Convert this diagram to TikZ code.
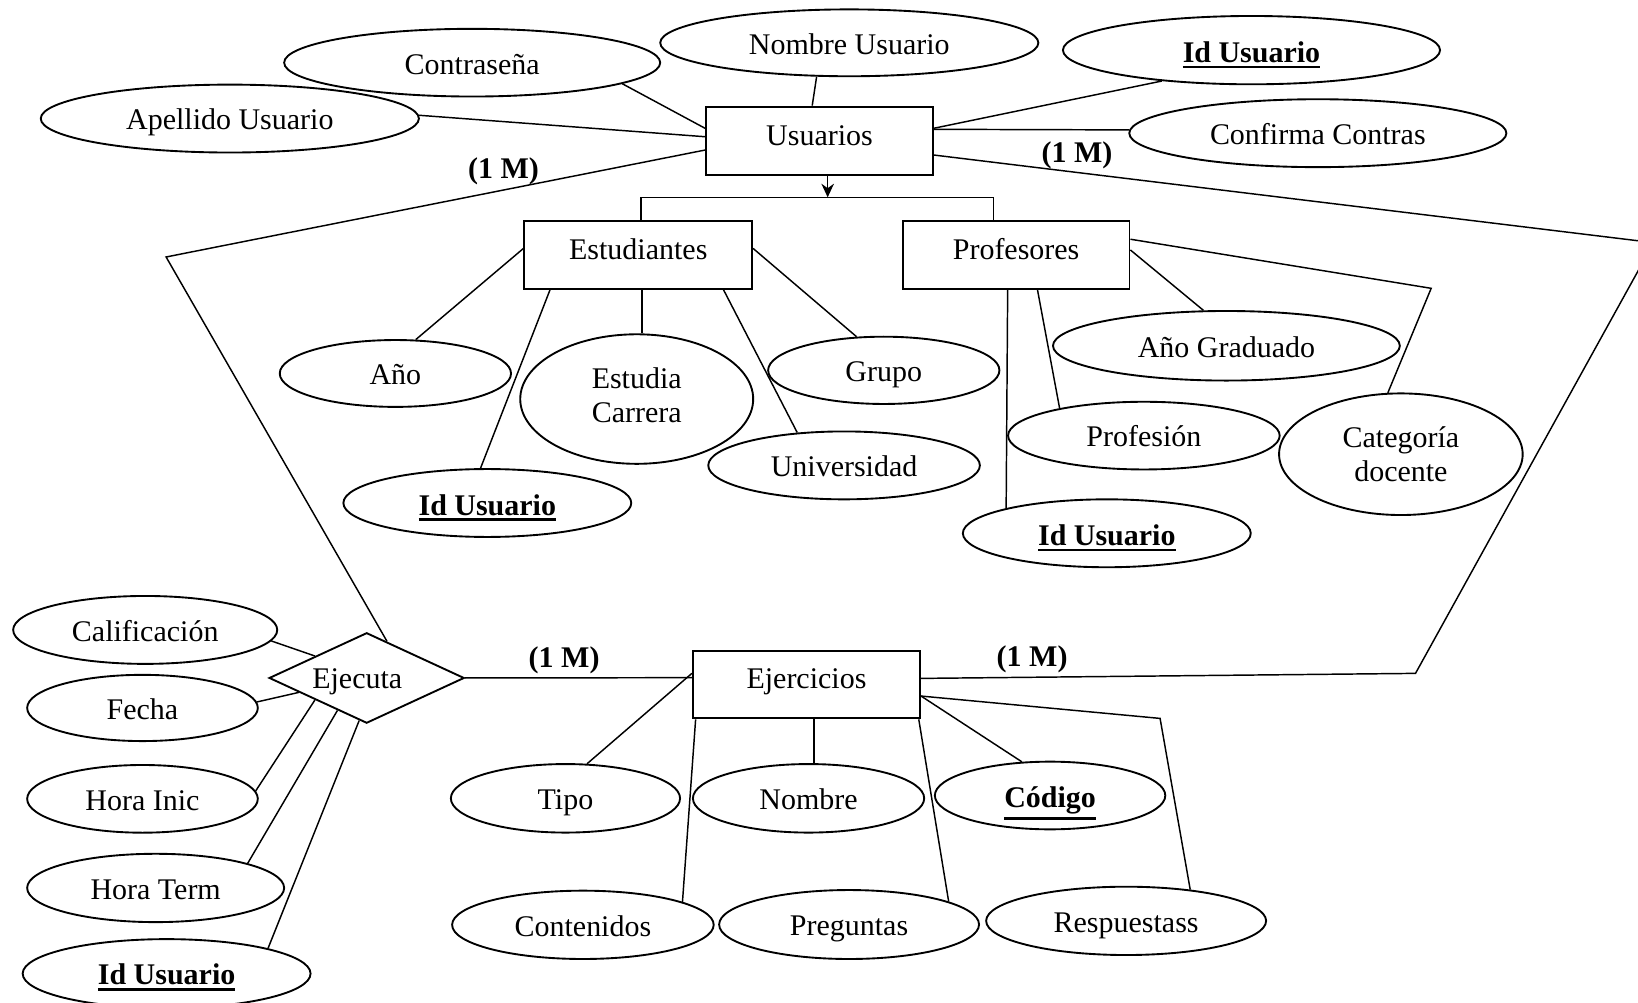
\documentclass[tikz,border=0pt]{standalone}
\usepackage{fontspec}
\setmainfont{Liberation Serif}
\usetikzlibrary{shapes.geometric,arrows.meta}
\newcommand{\idul}[1]{\vtop{\hbox{\bfseries #1}\kern2.6pt\hrule height 2.4pt}}
\begin{document}
\begin{tikzpicture}[x=1pt,y=1pt,
  every node/.style={font=\fontsize{28.7}{32.5}\selectfont},
  attr/.style={ellipse, draw, line width=1.8pt, inner sep=0pt, text height=22.8pt, text depth=1.1pt},
  keyattr/.style={attr, text height=24.8pt},
  attrtwo/.style={ellipse, draw, line width=1.8pt, inner sep=0pt, align=center},
  ent/.style={rectangle, draw, line width=1.8pt, inner sep=0pt, text height=19.8pt, text depth=11.5pt},
  rel/.style={diamond, draw, line width=1.8pt, inner sep=0pt, shape aspect=2.16, text height=21.8pt, text depth=1.1pt},
  card/.style={font=\fontsize{28.7}{32.5}\selectfont\bfseries, inner sep=0pt, text height=19.8pt, text depth=1.1pt},
  conn/.style={line width=1.4pt}
]
\useasboundingbox (0,0) rectangle (1568,-960);
\clip (0,0) rectangle (1568,-960);

% entities
\node[ent, minimum width=217, minimum height=65.5] (usu) at (784.5,-134.8) {Usuarios};
\node[ent, minimum width=218, minimum height=65] (est) at (611,-243.8) {Estudiantes};
\node[ent, minimum width=217, minimum height=65] (prof) at (972.7,-243.8) {Profesores};
\node[ent, minimum width=217.6, minimum height=64.8] (ejer) at (772,-655.3) {Ejercicios};
\node[rel, minimum width=186.8, minimum height=86.6] (ej) at (351,-649) {Ejecuta\hspace*{18pt}};

% attributes of Usuarios
\node[attr, minimum width=360, minimum height=64.8] (contra) at (452,-60) {Contraseña};
\node[attr, minimum width=362, minimum height=64] (nomu) at (813,-41) {Nombre Usuario};
\node[keyattr, minimum width=361, minimum height=65.4] (idt) at (1198,-48) {\idul{Id Usuario}};
\node[attr, minimum width=361, minimum height=65] (conf) at (1261.5,-127.5) {Confirma Contras};
\node[attr, minimum width=362, minimum height=65] (ape) at (220,-113.5) {Apellido Usuario};

% attributes of Estudiantes
\node[attr, minimum width=221.4, minimum height=64] (ano) at (378.5,-357.5) {Año};
\node[attrtwo, minimum width=223, minimum height=124] (carr) at (609.5,-382) {Estudia\\Carrera\rule[-8pt]{0pt}{8pt}};
\node[attr, minimum width=221.4, minimum height=64.4] (gru) at (846,-354.5) {Grupo};
\node[attr, minimum width=260, minimum height=65] (uni) at (808,-445.5) {Universidad};
\node[keyattr, minimum width=275.6, minimum height=65] (ide) at (466.5,-481.5) {\idul{Id Usuario}};

% attributes of Profesores
\node[attr, minimum width=332, minimum height=66.6] (ag) at (1174,-331) {Año Graduado};
\node[attr, minimum width=260, minimum height=64.8] (pro) at (1095,-417) {Profesión};
\node[attrtwo, minimum width=233.2, minimum height=116.4] (cat) at (1341,-434.8) {Categoría\\docente};
\node[keyattr, minimum width=275.6, minimum height=65] (idp) at (1059.5,-510.5) {\idul{Id Usuario}};

% attributes of Ejecuta
\node[attr, minimum width=252.8, minimum height=65] (cal) at (139,-603) {Calificación};
\node[attr, minimum width=220.8, minimum height=63.4] (fec) at (136.4,-677.7) {Fecha};
\node[attr, minimum width=220.8, minimum height=64.8] (hi) at (136.4,-764.7) {Hora Inic};
\node[attr, minimum width=246, minimum height=65.4] (ht) at (149,-850) {Hora Term};
\node[attr, minimum width=275.6, minimum height=66] (idb) at (159.5,-932) {\idul{Id Usuario}};

% attributes of Ejercicios
\node[attr, minimum width=219.4, minimum height=65.6] (tip) at (541.3,-764.2) {Tipo};
\node[attr, minimum width=221.4, minimum height=65.6] (nomb) at (774,-764.2) {Nombre};
\node[attr, minimum width=250.4, minimum height=65.4] (cont) at (558,-885.3) {Contenidos};
\node[attr, minimum width=248.8, minimum height=66] (preg) at (812.8,-885) {Preguntas};
\node[keyattr, minimum width=220.6, minimum height=64.8] (cod) at (1005.2,-761.5) {\idul{Código}};
\node[attr, minimum width=268, minimum height=65.4] (res) at (1078,-881.5) {Respuestass};

% cardinalities
\node[card] (c1) at (482,-162) {(1 M)};
\node[card] (c2) at (1031,-146) {(1 M)};
\node[card] (c3) at (540,-630) {(1 M)};
\node[card] (c4) at (988,-629) {(1 M)};

% Usuarios connectors
\draw[conn] (contra.-8.8) -- ([yshift=11.9]usu.west);
\draw[conn] (ape.1) -- ([yshift=3.9]usu.west);
\draw[conn] (nomu.-134) -- ([xshift=-7]usu.north);
\draw[conn] (idt.-161) -- ([yshift=12]usu.east);
\draw[conn] ([yshift=11]usu.east) -- (conf.179);

\coordinate (cl) at (159,-246);
\draw[conn] ([yshift=-8.8]usu.west) -- (cl) -- (ej.61);
\coordinate (cr1) at (1583,-232.3);
\coordinate (cr2) at (1355,-644.6);
\draw[conn] ([yshift=-13.6]usu.east) -- (cr1) -- (cr2) -- ([yshift=5.9]ejer.east);

% generalisation
\coordinate (bar) at (792.3,-188.9);
\draw[conn,-{Stealth[length=13pt,width=12pt]}] ([xshift=7.8]usu.south) -- (bar);
\draw[conn] ([xshift=2.8]est.north) |- (bar) -| ([xshift=-21.9]prof.north);

% Estudiantes connectors
\draw[conn] ([yshift=6]est.west) -- (ano.59);
\draw[conn] ([xshift=25.5]est.south west) -- (ide.101);
\draw[conn] ([xshift=3.4]est.south) -- ([xshift=3.4]est.south |- carr.north);
\draw[conn] ([xshift=-28.4]est.south east) -- (uni.145);
\draw[conn] ([yshift=6]est.east) -- (gru.129);

% Profesores connectors
\draw[conn] ([xshift=101.3]prof.south west) -- (idp.166.5);
\draw[conn] ([xshift=129.8]prof.south west) -- (pro.162);
\draw[conn] ([yshift=4.5]prof.east) -- (ag.123);
\coordinate (cc) at (1370,-276);
\draw[conn] ([yshift=14.8]prof.east) -- (cc) -- (cat.102);

% Ejecuta connectors
\draw[conn] (cal.-5) -- (ej.157);
\draw[conn] (fec.3) -- (ej.-168);
\draw[conn] (hi.4.5) -- (ej.-157);
\draw[conn] (ht.15.5) -- (ej.-132);
\draw[conn] (idb.14) -- (ej.-100);
\draw[conn] (ej.east) -- ([yshift=6.6]ejer.west);

% Ejercicios connectors
\draw[conn] ([yshift=10.7]ejer.west) -- (tip.58);
\draw[conn] ([xshift=7]ejer.south) -- ([xshift=7]ejer.south |- nomb.north);
\draw[conn] ([xshift=3.6]ejer.south west) -- (cont.13);
\draw[conn] ([xshift=-2.2]ejer.south east) -- (preg.13.5);
\draw[conn] ([yshift=-11]ejer.east) -- (cod.130);
\coordinate (cres) at (1110.5,-687.7);
\draw[conn] ([yshift=-11]ejer.east) -- (cres) -- (res.26.5);
\end{tikzpicture}
\end{document}
